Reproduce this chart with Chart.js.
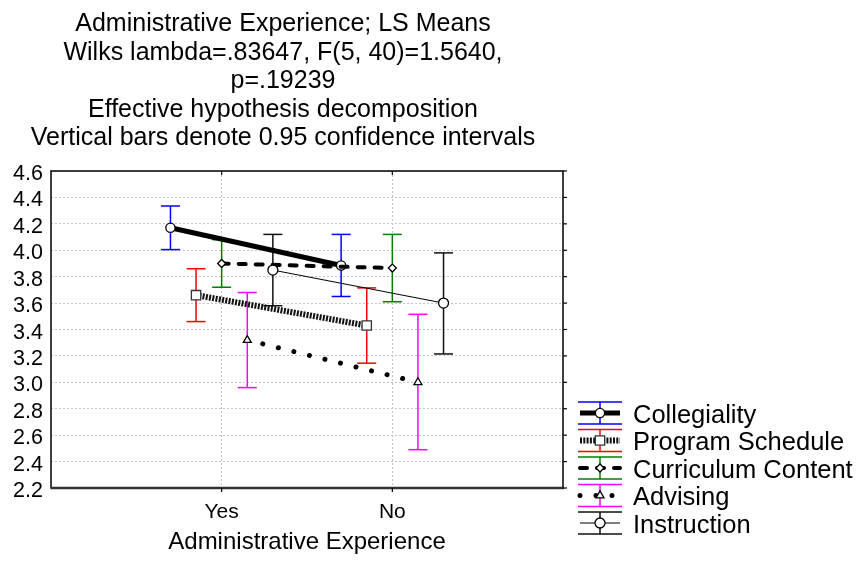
<!DOCTYPE html>
<html>
<head>
<meta charset="utf-8">
<script src="https://cdn.jsdelivr.net/npm/chart.js@4.4.1/dist/chart.umd.min.js"></script>
<style>
  html, body { margin: 0; padding: 0; background: #ffffff; }
  canvas { display: block; }
</style>
</head>
<body>
<canvas id="chart" width="862" height="561"></canvas>
<script>
// ---- data -------------------------------------------------------------
const categories = ['Yes', 'No'];
const seriesNames = ['Collegiality', 'Program Schedule', 'Curriculum Content', 'Advising', 'Instruction'];

const collegialityMeans = [4.17, 3.885];
const collegialityLower = [4.005, 3.65];
const collegialityUpper = [4.335, 4.12];

const scheduleMeans = [3.66, 3.43];
const scheduleLower = [3.46, 3.145];
const scheduleUpper = [3.86, 3.715];

const curriculumMeans = [3.90, 3.865];
const curriculumLower = [3.72, 3.61];
const curriculumUpper = [4.08, 4.12];

const advisingMeans = [3.32, 3.00];
const advisingLower = [2.96, 2.49];
const advisingUpper = [3.68, 3.515];

const instructionMeans = [3.85, 3.60];
const instructionLower = [3.58, 3.215];
const instructionUpper = [4.12, 3.98];

const titleLines = [
  'Administrative Experience; LS Means',
  'Wilks lambda=.83647, F(5, 40)=1.5640,',
  'p=.19239',
  'Effective hypothesis decomposition',
  'Vertical bars denote 0.95 confidence intervals'
];
const xAxisTitle = 'Administrative Experience';

const means = [collegialityMeans, scheduleMeans, curriculumMeans, advisingMeans, instructionMeans];
const lowers = [collegialityLower, scheduleLower, curriculumLower, advisingLower, instructionLower];
const uppers = [collegialityUpper, scheduleUpper, curriculumUpper, advisingUpper, instructionUpper];

// ---- styles -------------------------------------------------------------
const FONT = '"Liberation Sans", Arial, Helvetica, sans-serif';
const seriesStyles = [
  { offset: -0.30, bar: '#0000ff', width: 5,   dash: [],          cap: 'butt',  line: '#000000', point: 'circle',   radius: 4.6, pBorder: '#000000' },
  { offset: -0.15, bar: '#ff0000', width: 6,   dash: [2, 1.3],    cap: 'butt',  line: '#111111', point: 'rect',     radius: 6.6, pBorder: '#333333' },
  { offset:  0.00, bar: '#008000', width: 4,   dash: [7, 10],     cap: 'round', line: '#000000', point: 'rectRot',  radius: 4.0, pBorder: '#000000' },
  { offset:  0.15, bar: '#ff00ff', width: 5,   dash: [0.001, 16], cap: 'round', line: '#000000', point: 'triangle', radius: 4.6, pBorder: '#000000' },
  { offset:  0.30, bar: '#111111', width: 1,   dash: [],          cap: 'butt',  line: '#000000', point: 'circle',   radius: 5.0, pBorder: '#000000' }
];

const datasets = seriesNames.map((name, k) => {
  const s = seriesStyles[k];
  return {
    label: name,
    data: categories.map((c, i) => ({ x: i + 1 + s.offset, y: means[k][i] })),
    showLine: true,
    borderColor: s.line,
    borderWidth: s.width,
    borderDash: s.dash,
    borderCapStyle: s.cap,
    pointStyle: s.point,
    pointRadius: s.radius,
    pointBackgroundColor: '#ffffff',
    pointBorderColor: s.pBorder,
    pointBorderWidth: 1.3,
    order: seriesNames.length - k
  };
});

function strokeLine(ctx, x1, y1, x2, y2) {
  ctx.beginPath();
  ctx.moveTo(x1, y1);
  ctx.lineTo(x2, y2);
  ctx.stroke();
}

function drawText(ctx, str, x, y, size, align) {
  ctx.font = size + 'px ' + FONT;
  ctx.textAlign = align;
  ctx.textBaseline = 'alphabetic';
  ctx.fillStyle = '#000000';
  ctx.fillText(str, x, y);
}

// frame, tick marks and confidence-interval bars
const framePlugin = {
  id: 'frameAndBars',
  beforeDatasetsDraw(chart) {
    const { ctx, chartArea: a, scales: { x, y } } = chart;
    ctx.save();
    ctx.setLineDash([]);
    ctx.strokeStyle = '#000000';
    ctx.lineWidth = 1.5;
    ctx.strokeRect(a.left, a.top, a.right - a.left, a.bottom - a.top);
    ctx.lineWidth = 2.5;
    ctx.strokeStyle = '#333333';
    strokeLine(ctx, a.left, a.bottom, a.right + 1, a.bottom);

    ctx.lineWidth = 1.2;
    ctx.strokeStyle = '#000000';
    y.ticks.forEach(t => {
      const py = y.getPixelForValue(t.value);
      strokeLine(ctx, a.right, py, a.right + 4, py);
    });
    categories.forEach((c, i) => {
      const px = x.getPixelForValue(i + 1);
      strokeLine(ctx, px, a.bottom, px, a.bottom + 4);
      strokeLine(ctx, px, a.top, px, a.top + 4);
    });

    ctx.lineWidth = 1.5;
    seriesStyles.forEach((s, k) => {
      ctx.strokeStyle = s.bar;
      categories.forEach((c, i) => {
        const px = x.getPixelForValue(i + 1 + s.offset);
        const yl = y.getPixelForValue(lowers[k][i]);
        const yu = y.getPixelForValue(uppers[k][i]);
        strokeLine(ctx, px, yl, px, yu);
        strokeLine(ctx, px - 9.5, yl, px + 9.5, yl);
        strokeLine(ctx, px - 9.5, yu, px + 9.5, yu);
      });
    });
    ctx.restore();
  },
  afterDraw(chart) {
    const { ctx, chartArea: a, scales: { x, y } } = chart;
    ctx.save();
    // titles
    titleLines.forEach((t, i) => drawText(ctx, t, 283, 31 + i * 28.5, 25, 'center'));
    // y tick labels
    y.ticks.forEach(t => {
      const py = y.getPixelForValue(t.value);
      drawText(ctx, t.value.toFixed(1), a.left - 8, py + 9, 21.5, 'right');
    });
    // category labels
    categories.forEach((c, i) => {
      drawText(ctx, c, x.getPixelForValue(i + 1), 518, 21, 'center');
    });
    drawText(ctx, xAxisTitle, (a.left + a.right) / 2, 549, 24, 'center');

    // legend
    const lx1 = 578, lx2 = 622, lcx = 600;
    seriesNames.forEach((name, k) => {
      const s = seriesStyles[k];
      const cy = 413 + k * 27.5;
      ctx.setLineDash([]);
      ctx.lineCap = 'butt';
      ctx.lineWidth = 1.5;
      ctx.strokeStyle = s.bar;
      strokeLine(ctx, lx1, cy - 11, lx2, cy - 11);
      strokeLine(ctx, lx1, cy + 11, lx2, cy + 11);
      strokeLine(ctx, lcx, cy - 11, lcx, cy + 11);

      ctx.strokeStyle = s.line;
      ctx.lineWidth = s.width;
      ctx.lineCap = s.cap;
      ctx.setLineDash(s.dash);
      strokeLine(ctx, lx1 + 2, cy, lx2 - 2, cy);
      ctx.setLineDash([]);
      ctx.lineCap = 'butt';

      ctx.fillStyle = '#ffffff';
      ctx.strokeStyle = s.pBorder;
      ctx.lineWidth = 1.3;
      Chart.helpers.drawPoint(ctx, { pointStyle: s.point, radius: s.radius, borderWidth: 1.3, rotation: 0 }, lcx, cy);

      drawText(ctx, name, 633, cy + 9.5, 25.5, 'left');
    });
    ctx.restore();
  }
};

new Chart(document.getElementById('chart'), {
  type: 'scatter',
  data: { datasets },
  options: {
    responsive: false,
    animation: false,
    devicePixelRatio: 1,
    layout: { padding: { left: 51, top: 171, right: 299, bottom: 73 } },
    plugins: { legend: { display: false }, title: { display: false }, tooltip: { enabled: false } },
    scales: {
      x: {
        type: 'linear',
        min: 0,
        max: 3,
        afterBuildTicks: scale => { scale.ticks = categories.map((c, i) => ({ value: i + 1 })); },
        ticks: { display: false },
        grid: { color: '#c4c4c4', lineWidth: 1, drawTicks: false },
        border: { display: false, dash: [2, 2] }
      },
      y: {
        min: 2.2,
        max: 4.6,
        ticks: { display: false, stepSize: 0.2 },
        grid: { color: '#c4c4c4', lineWidth: 1, drawTicks: false },
        border: { display: false, dash: [2, 2] }
      }
    }
  },
  plugins: [framePlugin]
});
</script>
</body>
</html>
